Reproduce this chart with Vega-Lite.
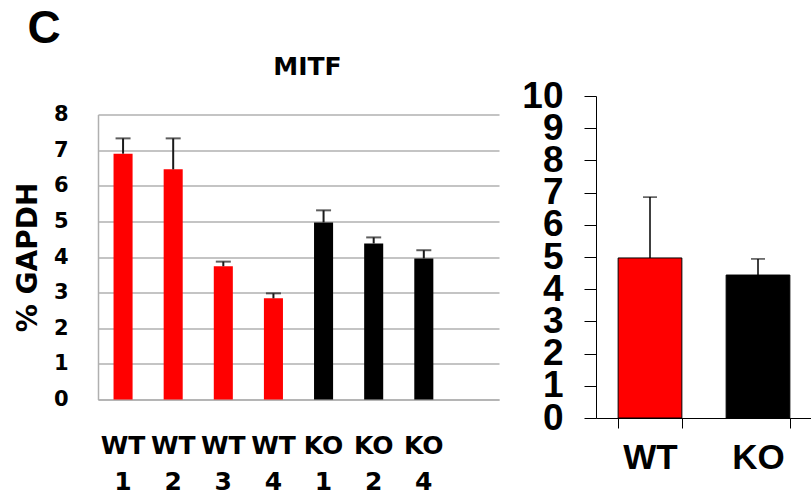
{
  "$schema": "https://vega.github.io/schema/vega-lite/v6.json",
  "background": "white",
  "padding": {"left": 14, "top": 5, "right": 0, "bottom": 0},
  "title": {"text": "C", "anchor": "start", "fontSize": 46, "font": "Liberation Sans", "fontWeight": "bold", "color": "black", "offset": 2, "dx": 13},
  "spacing": 97,
  "bounds": "flush",
  "center": true,
  "config": {"view": {"stroke": null}},
  "datasets": {
    "samples": [
      {"sample": "WT 1", "genotype": "WT", "value": 6.9, "upper": 7.33},
      {"sample": "WT 2", "genotype": "WT", "value": 6.46, "upper": 7.33},
      {"sample": "WT 3", "genotype": "WT", "value": 3.74, "upper": 3.87},
      {"sample": "WT 4", "genotype": "WT", "value": 2.84, "upper": 2.98},
      {"sample": "KO 1", "genotype": "KO", "value": 4.97, "upper": 5.31},
      {"sample": "KO 2", "genotype": "KO", "value": 4.38, "upper": 4.55},
      {"sample": "KO 4", "genotype": "KO", "value": 3.96, "upper": 4.19}
    ],
    "means": [
      {"genotype": "WT", "value": 4.97, "upper": 6.86},
      {"genotype": "KO", "value": 4.44, "upper": 4.94}
    ]
  },
  "hconcat": [
    {
      "width": 401,
      "height": 285,
      "title": {"text": "MITF", "fontSize": 25, "font": "DejaVu Sans", "fontWeight": "bold", "color": "black", "offset": 24, "dx": 9},
      "data": {"name": "samples"},
      "encoding": {
        "x": {
          "field": "sample", "type": "nominal", "sort": null,
          "scale": {"domain": ["WT 1", "WT 2", "WT 3", "WT 4", "KO 1", "KO 2", "KO 4", "pad"], "paddingInner": 0.62, "paddingOuter": 0.31},
          "axis": {
            "title": null, "labelAngle": 0,
            "labelExpr": "datum.label == 'pad' ? '' : split(datum.label, ' ')",
            "labelFontSize": 25, "labelFont": "DejaVu Sans", "labelFontWeight": "bold", "labelColor": "black",
            "labelLineHeight": 36, "labelPadding": 34, "ticks": false,
            "domainColor": "#B0B0B0", "domainWidth": 1.5
          }
        }
      },
      "layer": [
        {
          "mark": {"type": "bar"},
          "encoding": {
            "y": {
              "field": "value", "type": "quantitative",
              "scale": {"domain": [0, 8]},
              "axis": {
                "title": "% GAPDH", "titleFontSize": 28, "titleFont": "DejaVu Sans", "titleFontWeight": "bold", "titleColor": "black", "titlePadding": 11,
                "values": [0, 1, 2, 3, 4, 5, 6, 7, 8],
                "labelFontSize": 21, "labelFont": "DejaVu Sans", "labelFontWeight": "bold", "labelColor": "black",
                "labelPadding": 30, "ticks": false, "labelOverlap": false, "labelFlush": false,
                "domainColor": "#B0B0B0", "domainWidth": 1.5,
                "grid": true, "gridColor": "#B0B0B0", "gridWidth": 1.5
              }
            },
            "color": {"field": "genotype", "type": "nominal", "scale": {"domain": ["WT", "KO"], "range": ["#FF0000", "#000000"]}, "legend": null}
          }
        },
        {
          "mark": {"type": "rule", "color": "#1a1a1a", "strokeWidth": 2},
          "encoding": {
            "y": {
              "field": "value", "type": "quantitative",
              "axis": {
                "title": "% GAPDH", "titleFontSize": 28, "titleFont": "DejaVu Sans", "titleFontWeight": "bold", "titleColor": "black", "titlePadding": 11,
                "values": [0, 1, 2, 3, 4, 5, 6, 7, 8],
                "labelFontSize": 21, "labelFont": "DejaVu Sans", "labelFontWeight": "bold", "labelColor": "black",
                "labelPadding": 30, "ticks": false, "labelOverlap": false, "labelFlush": false,
                "domainColor": "#B0B0B0", "domainWidth": 1.5,
                "grid": true, "gridColor": "#B0B0B0", "gridWidth": 1.5
              }
            },
            "y2": {"field": "upper"}
          }
        },
        {
          "mark": {"type": "tick", "color": "#1a1a1a", "thickness": 2, "size": 15},
          "encoding": {
            "y": {
              "field": "upper", "type": "quantitative",
              "axis": {
                "title": "% GAPDH", "titleFontSize": 28, "titleFont": "DejaVu Sans", "titleFontWeight": "bold", "titleColor": "black", "titlePadding": 11,
                "values": [0, 1, 2, 3, 4, 5, 6, 7, 8],
                "labelFontSize": 21, "labelFont": "DejaVu Sans", "labelFontWeight": "bold", "labelColor": "black",
                "labelPadding": 30, "ticks": false, "labelOverlap": false, "labelFlush": false,
                "domainColor": "#B0B0B0", "domainWidth": 1.5,
                "grid": true, "gridColor": "#B0B0B0", "gridWidth": 1.5
              }
            }
          }
        }
      ]
    },
    {
      "width": 216,
      "height": 322,
      "data": {"name": "means"},
      "encoding": {
        "x": {
          "field": "genotype", "type": "nominal", "sort": null,
          "scale": {"domain": ["WT", "KO"], "paddingInner": 0.41, "paddingOuter": 0.205},
          "axis": {
            "title": null, "labelAngle": 0,
            "labelFontSize": 35, "labelFont": "Liberation Sans", "labelFontWeight": "bold", "labelColor": "black",
            "labelPadding": 12, "tickSize": 10, "tickBand": "extent", "tickColor": "black", "tickWidth": 1,
            "domainColor": "black", "domainWidth": 1
          }
        }
      },
      "layer": [
        {
          "mark": {"type": "bar", "stroke": "black", "strokeWidth": 1},
          "encoding": {
            "y": {
              "field": "value", "type": "quantitative",
              "scale": {"domain": [0, 10]},
              "axis": {
                "title": null, "values": [0, 1, 2, 3, 4, 5, 6, 7, 8, 9, 10],
                "labelFontSize": 37, "labelFont": "Liberation Sans", "labelFontWeight": "bold", "labelColor": "black",
                "labelPadding": 21, "labelOverlap": false, "labelFlush": false,
                "tickSize": 12, "tickColor": "black", "tickWidth": 1,
                "domainColor": "black", "domainWidth": 1, "grid": false
              }
            },
            "color": {"field": "genotype", "type": "nominal", "scale": {"domain": ["WT", "KO"], "range": ["#FF0000", "#000000"]}, "legend": null}
          }
        },
        {
          "mark": {"type": "rule", "color": "black", "strokeWidth": 1.5},
          "encoding": {
            "y": {
              "field": "value", "type": "quantitative",
              "axis": {
                "title": null, "values": [0, 1, 2, 3, 4, 5, 6, 7, 8, 9, 10],
                "labelFontSize": 37, "labelFont": "Liberation Sans", "labelFontWeight": "bold", "labelColor": "black",
                "labelPadding": 21, "labelOverlap": false, "labelFlush": false,
                "tickSize": 12, "tickColor": "black", "tickWidth": 1,
                "domainColor": "black", "domainWidth": 1, "grid": false
              }
            },
            "y2": {"field": "upper"}
          }
        },
        {
          "mark": {"type": "tick", "color": "black", "thickness": 1.5, "size": 14},
          "encoding": {
            "y": {
              "field": "upper", "type": "quantitative",
              "axis": {
                "title": null, "values": [0, 1, 2, 3, 4, 5, 6, 7, 8, 9, 10],
                "labelFontSize": 37, "labelFont": "Liberation Sans", "labelFontWeight": "bold", "labelColor": "black",
                "labelPadding": 21, "labelOverlap": false, "labelFlush": false,
                "tickSize": 12, "tickColor": "black", "tickWidth": 1,
                "domainColor": "black", "domainWidth": 1, "grid": false
              }
            }
          }
        }
      ]
    }
  ]
}
